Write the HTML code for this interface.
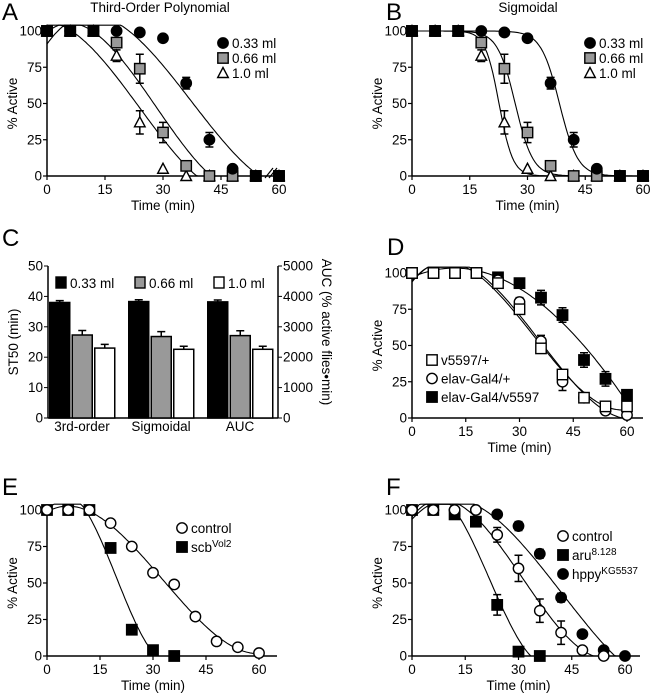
<!DOCTYPE html>
<html><head><meta charset="utf-8"><style>
body{margin:0;background:#fff;}
svg{display:block;font-family:"Liberation Sans",Arial,sans-serif;}
</style></head><body>
<svg id="fig" width="650" height="696" viewBox="0 0 650 696" xmlns="http://www.w3.org/2000/svg"></svg>
<script>
// ---- data ----
const times = [0,6,12,18,24,30,36,42,48,54,60];
const aC33 = [100,100,100,100,99,95,64,25,5,0,0];
const aC66 = [100,100,100,92,74,30,7,0,0,0,0];
const aC10 = [100,100,100,83,37,5,0,0,0,0,0];
const aE33 = [0,0,0,0,0,0,4,5,2,0,0];
const aE66 = [0,0,0,0,10,7,0,0,0,0,0];
const aE10 = [0,0,0,4,8,0,0,0,0,0,0];
const sigT50 = [38.3,26.8,22.6];
const sigK = [2.4,2.3,1.8];
const barGroups = ["3rd-order","Sigmoidal","AUC"];
const bar33 = [38,38.3,38.2];
const bar66 = [27.3,26.8,27.1];
const bar10 = [23,22.6,22.6];
const barErr33 = [0.6,0.6,0.6];
const barErr66 = [1.5,1.6,1.6];
const barErr10 = [1.2,1.0,1.0];
const dV = [100,100,100,100,93,75,48,30,14,8,8];
const dElav = [100,100,100,100,95,80,53,25,14,5,2];
const dCross = [100,100,100,100,97,93,83,71,40,27,16];
const dEV = [0,0,0,0,0,0,3,3,0,3,3];
const dEElav = [0,0,0,0,0,3,4,6,0,0,0];
const dECross = [0,0,0,0,0,0,5,5,5,5,0];
const eCtrl = [100,100,100,91,75,57,49,27,10,6,2];
const eScb = [100,100,100,74,18,4,0];
const fCtrl = [100,100,100,100,83,60,31,16,4,0];
const fAru = [100,100,97,92,35,3,0];
const fHppy = [100,100,100,100,97,89,70,40,15,4,0];
const fECtrl = [0,0,0,0,5,9,8,8,0,0];
const fEAru = [0,0,0,0,7,0,0];
const fEHppy = [0,0,0,0,0,3,3,3,0,0,0];
const yTicks = [0,25,50,75,100];
const xTicks = [0,15,30,45,60];
const barTicks = [0,10,20,30,40,50];
const aucTicks = [0,1000,2000,3000,4000,5000];

const NS="http://www.w3.org/2000/svg";
const svg=document.getElementById('fig');
function mk(tag,attrs,parent){const e=document.createElementNS(NS,tag);for(const k in attrs)e.setAttribute(k,attrs[k]);(parent||svg).appendChild(e);return e;}
function txt(s,x,y,size,anchor,parent){const t=mk('text',{x:x,y:y,'font-size':size,'text-anchor':anchor||'middle',fill:'#000'},parent);t.textContent=s;return t;}

function cubicFit(xs,ys){
  const n=4;const A=[];const b=[];
  for(let i=0;i<n;i++){A.push([0,0,0,0]);b.push(0);}
  for(let k=0;k<xs.length;k++){const x=xs[k]/60;const p=[1,x,x*x,x*x*x];
    for(let i=0;i<n;i++){b[i]+=p[i]*ys[k];for(let j=0;j<n;j++)A[i][j]+=p[i]*p[j];}}
  for(let i=0;i<n;i++){let m=i;for(let r=i+1;r<n;r++)if(Math.abs(A[r][i])>Math.abs(A[m][i]))m=r;
    [A[i],A[m]]=[A[m],A[i]];[b[i],b[m]]=[b[m],b[i]];
    for(let r=i+1;r<n;r++){const f=A[r][i]/A[i][i];for(let c=i;c<n;c++)A[r][c]-=f*A[i][c];b[r]-=f*b[i];}}
  const c=[0,0,0,0];for(let i=n-1;i>=0;i--){let s=b[i];for(let j=i+1;j<n;j++)s-=A[i][j]*c[j];c[i]=s/A[i][i];}
  return t=>{const x=t/60;return c[0]+c[1]*x+c[2]*x*x+c[3]*x*x*x;};
}

function makePanel(cfg){
  const g=mk('g',{});
  
  
  const sx=t=>cfg.x0+(cfg.x1-cfg.x0)*t/60;
  const sy=v=>cfg.yb+(cfg.yt-cfg.yb)*v/100;
  cfg.sx=sx;cfg.sy=sy;cfg.g=g;
  const ya=mk('line',{x1:cfg.x0,y1:cfg.yb,x2:cfg.x0,y2:cfg.yt-3,stroke:'#000','stroke-width':1.5},g);
  
  
  const xa=mk('line',{x1:cfg.x0,y1:cfg.yb,x2:cfg.xEnd,y2:cfg.yb,stroke:'#000','stroke-width':1.5},g);
  
  
  yTicks.forEach(v=>{mk('line',{x1:cfg.x0-4,y1:sy(v),x2:cfg.x0,y2:sy(v),stroke:'#000','stroke-width':1.2},g);
    const t=txt(String(v),cfg.x0-5,sy(v)+4.5,13.5,'end',g);
    
    });
  xTicks.forEach(v=>{mk('line',{x1:sx(v),y1:cfg.yb,x2:sx(v),y2:cfg.yb+4,stroke:'#000','stroke-width':1.2},g);
    const t=txt(String(v),sx(v),cfg.yb+18,13.5,'middle',g);
    
    });
  const yt=txt('% Active',0,0,13.5,'middle',g);
  yt.setAttribute('transform','translate('+(cfg.x0-30)+','+((cfg.yt+cfg.yb)/2)+') rotate(-90)');
  
  
  const xt=txt('Time (min)',(cfg.x0+cfg.x1)/2,cfg.yb+34,13.5,'middle',g);
  
  
  const L=txt(cfg.letter,cfg.lx,cfg.ly,24,'start',g);
  
  
  return cfg;
}
function drawCurve(cfg,f,name){
  let pts=[];let hitZero=false;
  for(let t=0;t<=60;t+=0.5){let v=f(t);if(hitZero)v=0;if(v<=0){v=0;hitZero=true;}if(v>104)v=104;pts.push(cfg.sx(t).toFixed(1)+','+cfg.sy(v).toFixed(1));}
  const p=mk('polyline',{points:pts.join(' '),fill:'none',stroke:'#000','stroke-width':1.1},cfg.g);
  
  
}
function drawMarker(g,type,x,y,name){
  let e;
  if(type.startsWith('circle')){e=mk('circle',{cx:x,cy:y,r:5.2,fill:type==='circleFilled'?'#000':'#fff',stroke:'#000','stroke-width':1.4},g);}
  else if(type.startsWith('square')){const f={squareFilled:'#000',squareGray:'#999',squareOpen:'#fff'}[type];
    e=mk('rect',{x:x-5.2,y:y-5.2,width:10.4,height:10.4,fill:f,stroke:'#000','stroke-width':1.4},g);}
  else{e=mk('polygon',{points:(x)+','+(y-5.5)+' '+(x-5.3)+','+(y+4.5)+' '+(x+5.3)+','+(y+4.5),fill:'#fff',stroke:'#000','stroke-width':1.4},g);}
  
  
  return e;
}
function drawSeries(cfg,vals,errs,type,name){
  vals.forEach((v,i)=>{const x=cfg.sx(times[i]),y=cfg.sy(v);const er=errs?errs[i]:0;
    if(er>0){const e=mk('path',{d:'M'+x+','+cfg.sy(v-er)+'V'+cfg.sy(v+er)+'M'+(x-4)+','+cfg.sy(v+er)+'h8M'+(x-4)+','+cfg.sy(v-er)+'h8',stroke:'#000','stroke-width':1.5,fill:'none'},cfg.g);
      
      }
    drawMarker(cfg.g,type,x,y,name+'-point');});
}
function legend(g,items,x,y,dy){
  items.forEach((it,i)=>{const yy=y+i*dy;drawMarker(g,it[0],x,yy,'legend-marker');
    const t=txt('',x+9,yy+5,13.5,'start',g);
    
    
    const s1=document.createElementNS(NS,'tspan');s1.textContent=it[1];t.appendChild(s1);
    if(it[2]){const s2=document.createElementNS(NS,'tspan');s2.setAttribute('dy','-5');s2.setAttribute('font-size','10');s2.textContent=it[2];t.appendChild(s2);}
  });
}

// Panel A
const A=makePanel({name:'panel-a',letter:'A',lx:2,ly:20,x0:47,x1:279,xEnd:280,yt:31,yb:176});
txt('Third-Order Polynomial',160,12,13.5,'middle',A.g);
drawCurve(A,cubicFit(times,aC33),'fit-033');
drawCurve(A,cubicFit(times,aC66),'fit-066');
drawCurve(A,cubicFit(times,aC10),'fit-10');
drawSeries(A,aC10,aE10,'triOpen','series-10');
drawSeries(A,aC66,aE66,'squareGray','series-066');
drawSeries(A,aC33,aE33,'circleFilled','series-033');
[0,6,12,54,60].forEach(t=>drawMarker(A.g,'squareFilled',A.sx(t),A.sy(t<30?100:0),'overlap-point'));
mk('path',{d:'M265,178L273,168M269,178L277,168',stroke:'#000','stroke-width':1.2,fill:'#fff'},A.g);
legend(A.g,[['circleFilled','0.33 ml'],['squareGray','0.66 ml'],['triOpen','1.0 ml']],223,43,15);

// Panel B
const B=makePanel({name:'panel-b',letter:'B',lx:386,ly:20,x0:412,x1:643,xEnd:645,yt:31,yb:176});
txt('Sigmoidal',528,12,13.5,'middle',B.g);
sigT50.forEach((t50,i)=>drawCurve(B,t=>100/(1+Math.exp((t-t50)/sigK[i])),'sigmoid-fit'));
drawSeries(B,aC10,aE10,'triOpen','series-10');
drawSeries(B,aC66,aE66,'squareGray','series-066');
drawSeries(B,aC33,aE33,'circleFilled','series-033');
[0,6,12,54,60].forEach(t=>drawMarker(B.g,'squareFilled',B.sx(t),B.sy(t<30?100:0),'overlap-point'));
legend(B.g,[['circleFilled','0.33 ml'],['squareGray','0.66 ml'],['triOpen','1.0 ml']],590,43,15);

// Panel C bars
(function(){
  const g=mk('g',{});
  
  
  const xl=48,xr=278,yb=418,yt=266;
  const sy=v=>yb+(yt-yb)*v/50;
  mk('line',{x1:xl,y1:yb,x2:xl,y2:yt,stroke:'#000','stroke-width':1.5},g);
  mk('line',{x1:xr,y1:yb,x2:xr,y2:yt,stroke:'#000','stroke-width':1.5},g);
  mk('line',{x1:xl,y1:yb,x2:xr,y2:yb,stroke:'#000','stroke-width':1.5},g);
  barTicks.forEach(v=>{mk('line',{x1:xl-4,y1:sy(v),x2:xl,y2:sy(v),stroke:'#000'},g);const t=txt(String(v),xl-5,sy(v)+4.5,13.5,'end',g);});
  aucTicks.forEach(v=>{const y=sy(v/100);mk('line',{x1:xr,y1:y,x2:xr+4,y2:y,stroke:'#000'},g);const t=txt(String(v),xr+5,y+4.5,13.5,'start',g);});
  const yl=txt('ST50 (min)',0,0,13.5,'middle',g);yl.setAttribute('transform','translate(18,342) rotate(-90)');
  
  const yr=txt('AUC (% active flies\u2022min)',0,0,13.5,'middle',g);yr.setAttribute('transform','translate(322,332) rotate(90)');
  
  txt('C',2,246,24,'start',g);
  const series=[[bar33,barErr33,'#000'],[bar66,barErr66,'#999'],[bar10,barErr10,'#fff']];
  barGroups.forEach((name,gi)=>{
    const gx=49+gi*79;
    series.forEach((s,si)=>{const x=gx+si*22.5;const v=s[0][gi],e=s[1][gi];
      const r=mk('rect',{x:x+0.75,y:sy(v),width:20,height:yb-sy(v),fill:s[2],stroke:'#000','stroke-width':1.5},g);
      
      
      mk('path',{d:'M'+(x+10.75)+','+sy(v)+'V'+sy(v+e)+'M'+(x+6.75)+','+sy(v+e)+'h8',stroke:'#000','stroke-width':1.5},g);});
    const t=txt(name,gx+33,431,13.5,'middle',g);
    
  });
  [['#000','0.33 ml',56],['#999','0.66 ml',135],['#fff','1.0 ml',214]].forEach(l=>{
    const r=mk('rect',{x:l[2],y:277,width:10,height:11,fill:l[0],stroke:'#000','stroke-width':1.4},g);
    
    const t=txt(l[1],l[2]+14,288,13.5,'start',g);});
})();

// Panel D
const D=makePanel({name:'panel-d',letter:'D',lx:387,ly:255,x0:412,x1:627,xEnd:643,yt:273,yb:418});
drawCurve(D,cubicFit(times,dV),'fit-v5597');
drawCurve(D,cubicFit(times,dElav),'fit-elav');
drawCurve(D,cubicFit(times,dCross),'fit-cross');
drawSeries(D,dCross,dECross,'squareFilled','series-cross');
drawSeries(D,dElav,dEElav,'circleOpen','series-elav');
drawSeries(D,dV,dEV,'squareOpen','series-v5597');
legend(D.g,[['squareOpen','v5597/+'],['circleOpen','elav-Gal4/+'],['squareFilled','elav-Gal4/v5597']],432,360,18.5);

// Panel E
const E=makePanel({name:'panel-e',letter:'E',lx:2,ly:495,x0:47,x1:259,xEnd:277,yt:510,yb:656});
drawCurve(E,cubicFit(times,eCtrl),'fit-control');
drawCurve(E,cubicFit(times.slice(0,eScb.length),eScb),'fit-scb');
drawSeries(E,eScb,null,'squareFilled','series-scb');
drawSeries(E,eCtrl,null,'circleOpen','series-control');
legend(E.g,[['circleOpen','control'],['squareFilled','scb','Vol2']],182,528,19);

// Panel F
const F=makePanel({name:'panel-f',letter:'F',lx:386,ly:495,x0:412,x1:625,xEnd:640,yt:510,yb:656});
drawCurve(F,cubicFit(times.slice(0,fCtrl.length),fCtrl),'fit-control');
drawCurve(F,cubicFit(times.slice(0,fAru.length),fAru),'fit-aru');
drawCurve(F,cubicFit(times,fHppy),'fit-hppy');
drawSeries(F,fHppy,fEHppy,'circleFilled','series-hppy');
drawSeries(F,fAru,fEAru,'squareFilled','series-aru');
drawSeries(F,fCtrl,fECtrl,'circleOpen','series-control');
legend(F.g,[['circleOpen','control'],['squareFilled','aru','8.128'],['circleFilled','hppy','KG5537']],563,536,19);
</script>
</body></html>
